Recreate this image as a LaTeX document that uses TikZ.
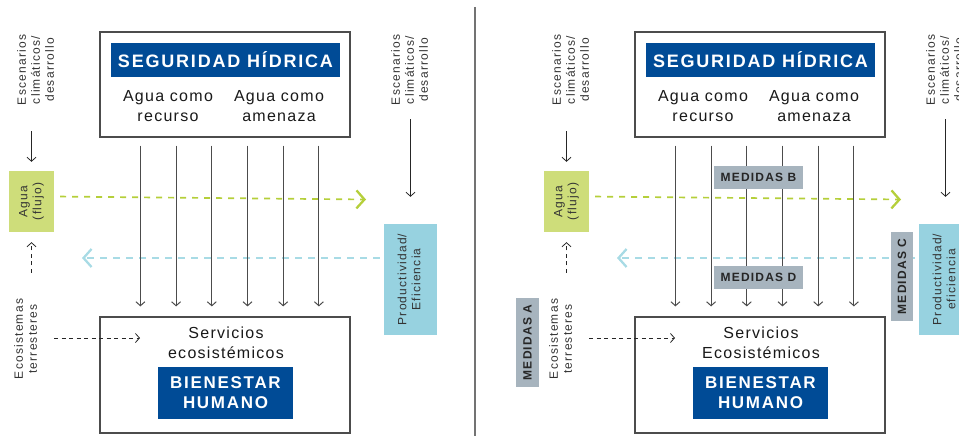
\documentclass[tikz,border=0pt]{standalone}
\usepackage{fontspec}
\setmainfont{Liberation Sans}
\newfontfamily\bodyfont[LetterSpace=8]{Liberation Sans}
\newfontfamily\smallfont[LetterSpace=10]{Liberation Sans}
\newfontfamily\capsfont[LetterSpace=10]{Liberation Sans}
\usetikzlibrary{arrows.meta}

\definecolor{hydroblue}{RGB}{0,75,150}
\definecolor{waterbox}{RGB}{206,221,122}
\definecolor{waterdash}{RGB}{181,207,58}
\definecolor{prodbox}{RGB}{151,210,224}
\definecolor{proddash}{RGB}{168,219,229}
\definecolor{measgray}{RGB}{167,180,190}

\tikzset{
  panelbox/.style={draw=black!70, line width=1.2pt, minimum width=250pt, inner sep=0pt},
  titlebox/.style={fill=hydroblue, text=white, inner sep=0pt, align=center},
  bodytext/.style={font=\bodyfont\fontsize{16}{19.5}\selectfont, text=black!90, align=center, inner sep=0pt},
  sidetext/.style={font=\smallfont\fontsize{12}{14}\selectfont, text=black!80, inner sep=0pt},
  sidebox/.style={inner sep=0pt, font=\smallfont\fontsize{12}{14}\selectfont, text=black!80},
  measbox/.style={fill=measgray, inner sep=0pt, text=black!85, font=\capsfont\bfseries\fontsize{12}{14}\selectfont},
  arr/.style={draw=black!85, line width=0.8pt, -{Straight Barb[length=4pt,width=9pt]}},
  vline/.style={draw=black!70, line width=1pt, -{Straight Barb[length=4pt,width=9pt]}},
  darr/.style={arr, dash pattern=on 4pt off 3.5pt},
  gflow/.style={draw=waterdash, line width=1.7pt, dash pattern=on 6pt off 6pt,
    -{Straight Barb[length=8pt,width=18pt,line width=2.3pt]}},
  bflow/.style={draw=proddash, line width=1.7pt, dash pattern=on 7pt off 6pt,
    -{Straight Barb[length=8pt,width=18pt,line width=2.3pt]}},
}

\newcommand{\vtext}[1]{\rotatebox{90}{\begin{tabular}{@{}c@{}}#1\end{tabular}}}

% one panel: #1 second line of the services text, #2 second line of the productivity box
\newcommand{\drawpanel}[2]{%
  \node[panelbox, minimum height=105pt] (top) at (225,84.5) {};
  \node[titlebox, minimum width=229pt, minimum height=34pt,
    font=\capsfont\bfseries\fontsize{18}{20}\selectfont] (seg) at (225.5,60) {SEGURIDAD HÍDRICA};
  \node[bodytext] (rec) at (168,106) {Agua como\\recurso};
  \node[bodytext] (ame) at (279,106) {Agua como\\amenaza};

  \node[panelbox, minimum height=116pt] (bot) at (225,375) {};
  \node[bodytext] (serv) at (226,343) {Servicios\\#1};
  \node[titlebox, minimum width=135pt, minimum height=52pt,
    font=\capsfont\bfseries\fontsize{17}{20}\selectfont] (bien) at (225.5,393) {BIENESTAR\\HUMANO};

  \node[sidetext] (escL) at (37,70) {\vtext{Escenarios\\climáticos/\\desarrollo}};
  \node[sidebox, fill=waterbox, minimum width=45pt, minimum height=61pt] (agua) at (31.5,201.5) {\vtext{Agua\\(flujo)}};
  \node[sidetext] (eco) at (27,339) {\vtext{Ecosistemas\\terresteres}};
  \node[sidetext] (escR) at (411,70) {\vtext{Escenarios\\climáticos/\\desarrollo}};
  \node[sidebox, fill=prodbox, minimum width=53pt, minimum height=111pt] (prod) at (410.5,279.5) {\vtext{Productividad/\\#2}};

  \coordinate (gEnd) at (366,199.5);
  \coordinate (bEnd) at (82,258);
  \coordinate (ecoEnd) at (140,338);

  % flows
  \draw[gflow, shorten <=6pt] ([yshift=5pt]agua.east) -- (gEnd);
  \draw[bflow, shorten <=4pt] (prod.west |- bEnd) -- (bEnd);

  % drivers
  \draw[arr, shorten <=26pt, shorten >=9pt] (escL.south -| agua.north) -- (agua.north);
  \draw[darr, shorten <=26pt, shorten >=10pt] (eco.north -| agua.south) -- (agua.south);
  \draw[darr, shorten <=13pt] (eco.east |- ecoEnd) -- (ecoEnd);
  \draw[arr, shorten <=14pt, shorten >=27pt] (escR.south -| prod.north) -- (prod.north);

  % security -> services
  \foreach \i in {0,...,5}
    \draw[vline, shorten <=8pt, shorten >=10pt] ([xshift=41pt+\i*35.7pt]top.south west)
      -- ([xshift=41pt+\i*35.7pt]bot.north west);
}

\begin{document}
\begin{tikzpicture}[x=1pt,y=-1pt]
  \useasboundingbox (0,0) rectangle (959,436);
  \clip (0,0) rectangle (959,436);

  \drawpanel{ecosistémicos}{Eficiencia}

  \draw[draw=black!55, line width=1.5pt] (475,7) -- (475,436);

  \begin{scope}[xshift=535pt, name prefix=r-]
    \drawpanel{Ecosistémicos}{eficiencia}
  \end{scope}

  % measures
  \node[measbox, minimum width=89pt, minimum height=23pt] (medB) at (758.5,177.5) {MEDIDAS B};
  \node[measbox, minimum width=89pt, minimum height=23pt] (medD) at (758.5,277.5) {MEDIDAS D};
  \node[measbox, minimum width=22pt, minimum height=89pt] (medC) at (902,276.5) {\rotatebox{90}{MEDIDAS C}};
  \node[measbox, minimum width=23pt, minimum height=89pt] (medA) at (527.5,342.5) {\rotatebox{90}{MEDIDAS A}};
\end{tikzpicture}
\end{document}
